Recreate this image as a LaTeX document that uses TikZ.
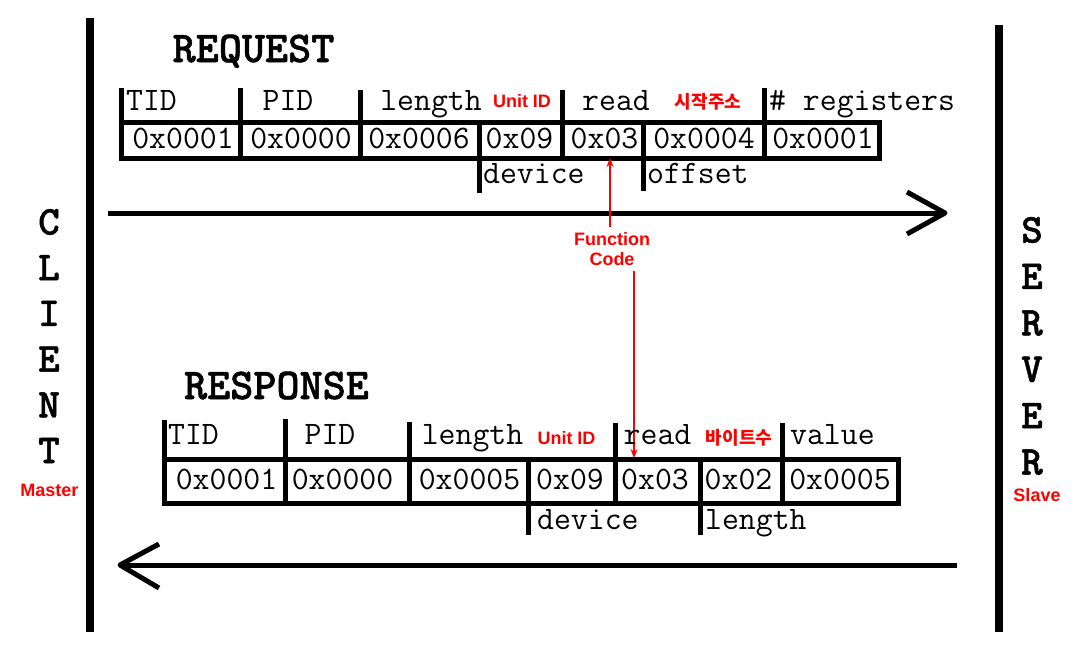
\documentclass[tikz,border=0pt]{standalone}
\usepackage{fontspec}
\setsansfont{Liberation Sans}
\newfontfamily\cjk{Noto Sans CJK KR}
\newfontfamily\ttlfont{lmmonolt10-bold.otf}[FakeBold=1.2]
\usetikzlibrary{arrows.meta}

\tikzset{
  tline/.style={line width=5pt, line cap=rect},
  marrow/.style={line width=5pt, line join=round},
  hdr/.style={font=\ttfamily\fontsize{32.8}{32.8}\selectfont, inner sep=0pt, anchor=base},
  ttl/.style={font=\ttlfont\fontsize{44}{44}\selectfont, inner sep=0pt},
  lbl/.style={font=\sffamily\bfseries\fontsize{18}{20.5}\selectfont, text=red, inner sep=0pt},
  klbl/.style={font=\cjk\bfseries\fontsize{18}{18}\selectfont, text=red, inner sep=0pt},
  fcarrow/.style={red, line width=1.6pt, -{Stealth[length=9pt, width=7pt]}},
}

\begin{document}
\begin{tikzpicture}[x=1pt, y=-1pt]
    \useasboundingbox (0,0) rectangle (1079,645);

    % Client e server
    \draw[line width=8pt] (90,18) -- (90,632);
    \draw[line width=8pt] (999,25) -- (999,632);
    \node[ttl, align=center, font=\ttlfont\fontsize{41}{45.7}\selectfont] (client) at (49,336) {C\\L\\I\\E\\N\\T};
    \node[ttl, align=center, font=\ttlfont\fontsize{41}{46.4}\selectfont] (server) at (1032,346) {S\\E\\R\\V\\E\\R};
    \node[lbl] (master) at (49.5,490) {Master};
    \node[lbl] (slave) at (1037,495.5) {Slave};

    % Request
    \node[ttl, anchor=base] (req) at (253.5,62) {REQUEST};
    \draw[tline] (121,122) -- (879,122);
    \draw[tline] (121,158) -- (879,158);
    \draw[tline] (121,90) -- (121,158);
    \draw[tline] (240,90) -- (240,158);
    \draw[tline] (360,92) -- (360,158);
    \draw[tline] (479,122) -- (479,190);
    \draw[tline] (562,92) -- (562,158);
    \draw[tline] (643,122) -- (643,188);
    \draw[tline] (764,90) -- (764,158);
    \draw[tline] (879,122) -- (879,158);

    \node[hdr, anchor=base west] (rqTID) at (126,110) {TID};
    \node[hdr] (rqPID) at (288,110) {PID};
    \node[hdr] (rqLen) at (431,110) {length};
    \node[lbl] (rqUnit) at (522,101.5) {Unit ID};
    \node[hdr] (rqRead) at (616,110) {read};
    \node[klbl] (rqAddr) at (708,101.5) {시작주소};
    \node[hdr, anchor=base west] (rqNum) at (769,110) {\# registers};
    \foreach \x/\v [count=\i] in {183/0x0001, 301/0x0000, 419/0x0006, 519.5/0x09,
                                 604.5/0x03, 704/0x0004, 823/0x0001}
        \node[hdr] (rqv\i) at (\x,148) {\v};
    \node[hdr, anchor=base west] (rqDev) at (483,183) {device};
    \node[hdr, anchor=base west] (rqOff) at (647,183) {offset};

    \coordinate (rqA) at (108,213);
    \coordinate (rqB) at (945,213);
    \draw[marrow] (rqA) -- (rqB);
    \draw[marrow] (rqB) ++(-38,-21) -- (rqB) -- ++(-38,21);

    % Function code
    \node[lbl, align=center, inner sep=5pt] (fc) at (612,249) {Function\\Code};
    \coordinate (rq03) at (610,158);
    \coordinate (rs03) at (634,458);
    \draw[fcarrow] (fc.north -| rq03) -- (rq03);
    \draw[fcarrow] (fc.south -| rs03) -- (rs03);

    % Response
    \node[ttl, anchor=base] (resp) at (276.5,399) {RESPONSE};
    \draw[tline] (164,459) -- (898,459);
    \draw[tline] (164,503) -- (898,503);
    \draw[tline] (164,422) -- (164,503);
    \draw[tline] (285,421) -- (285,503);
    \draw[tline] (409,424) -- (409,503);
    \draw[tline] (528,459) -- (528,532);
    \draw[tline] (615,425) -- (615,503);
    \draw[tline] (700,459) -- (700,532);
    \draw[tline] (782,425) -- (782,503);
    \draw[tline] (898,459) -- (898,503);

    \node[hdr, anchor=base west] (rsTID) at (168,444) {TID};
    \node[hdr] (rsPID) at (330,444) {PID};
    \node[hdr] (rsLen) at (472.5,444) {length};
    \node[lbl] (rsUnit) at (566.5,438) {Unit ID};
    \node[hdr] (rsRead) at (657.5,444) {read};
    \node[klbl] (rsCnt) at (739,438) {바이트수};
    \node[hdr, anchor=base west] (rsVal) at (790,444) {value};
    \foreach \x/\v [count=\i] in {226.5/0x0001, 342.5/0x0000, 469.5/0x0005, 570/0x09,
                                 655/0x03, 738.5/0x02, 840/0x0005}
        \node[hdr] (rsv\i) at (\x,489) {\v};
    \node[hdr, anchor=base west] (rsDev) at (537,529) {device};
    \node[hdr, anchor=base west] (rsLen2) at (705,529) {length};

    \coordinate (rsA) at (957,565);
    \coordinate (rsB) at (120,565);
    \draw[marrow] (rsA) -- (rsB);
    \draw[marrow] (rsB) ++(39,-21) -- (rsB) -- ++(39,23);

\end{tikzpicture}
\end{document}
